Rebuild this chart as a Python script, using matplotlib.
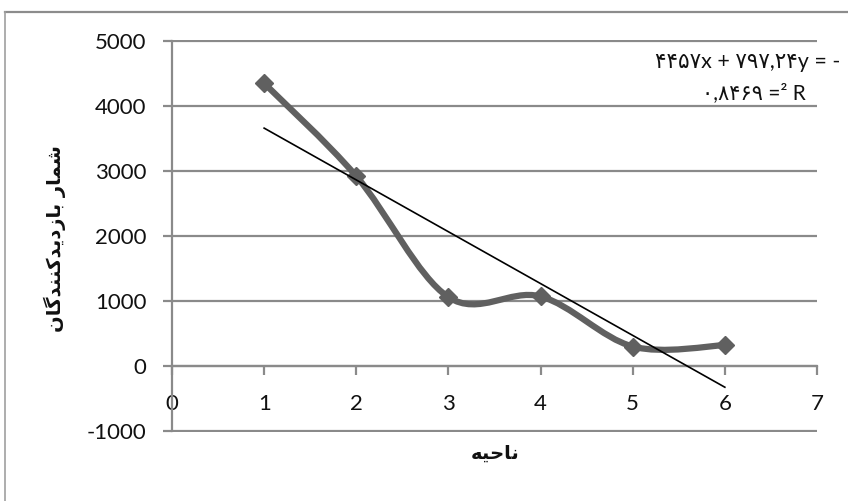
import matplotlib
matplotlib.use("Agg")
import matplotlib.pyplot as plt
from matplotlib.path import Path
from matplotlib.patches import PathPatch
from matplotlib.lines import Line2D
import numpy as np

# ---- data ----
districts = [1, 2, 3, 4, 5, 6]
visitors = [4350, 2920, 1060, 1070, 300, 320]
trend_slope = -797.24
trend_intercept = 4457
x_ticks = [0, 1, 2, 3, 4, 5, 6, 7]
y_ticks = [-1000, 0, 1000, 2000, 3000, 4000, 5000]
eq_line1 = "۴۴۵۷x + ۷۹۷,۲۴y = -"
eq_line2 = "۰,۸۴۶۹ =² R"


def visual(s):
    # matplotlib draws left to right; Arabic-script text given in shaped
    # presentation forms is reversed into visual order
    return s[::-1]

# شمار بازدیدکنندگان (shaped presentation forms, logical order)
ylabel_text = visual("\uFEB7\uFEE4\uFE8E\uFEAD \uFE91\uFE8E\uFEAF\uFEA9\uFBFE\uFEAA\uFB90\uFEE8\uFEE8\uFEAA\uFB94\uFE8E\uFEE5")
# ناحیه
xlabel_text = visual("\uFEE7\uFE8E\uFEA3\uFBFF\uFEEA")

plt.rcParams["font.family"] = ["Lato", "DejaVu Sans"]
plt.rcParams["axes.unicode_minus"] = False

W, H = 848, 501
fig = plt.figure(figsize=(W / 100, H / 100), dpi=100)
fig.patch.set_facecolor("white")

GRID = "#8a8a8a"
SERIES = "#606060"

# axes: x 0..7 -> px 172..817 ; y -1000..5000 -> px 431..41 (with a small margin)
pad_units = 12
px_per_unit_y = 390 / 6000
top_px = 41 - pad_units * px_per_unit_y
bot_px = 431 + pad_units * px_per_unit_y
ax = fig.add_axes([172 / W, 1 - bot_px / H, (817 - 172) / W, (bot_px - top_px) / H])
ax.set_xlim(0, 7)
ax.set_ylim(-1000 - pad_units, 5000 + pad_units)
ax.set_facecolor("none")

for s in ["top", "right"]:
    ax.spines[s].set_visible(False)
ax.spines["left"].set_bounds(-1000, 5000)
ax.spines["left"].set_color(GRID)
ax.spines["left"].set_linewidth(1.6)
ax.spines["bottom"].set_position(("data", 0))
ax.spines["bottom"].set_color(GRID)
ax.spines["bottom"].set_linewidth(1.6)

ax.set_xticks(x_ticks)
ax.set_yticks(y_ticks)
ax.yaxis.grid(True, color=GRID, lw=1.6)
ax.set_axisbelow(True)
ax.tick_params(axis="y", direction="out", length=6.5, width=1.6, color=GRID,
               pad=12, labelsize=16, labelcolor="#111111")
ax.tick_params(axis="x", direction="out", length=6.5, width=1.6, color=GRID,
               pad=14, labelsize=16, labelcolor="#111111")

# ---- smoothed series (Excel-style Bezier smoothing) ----
pts = np.column_stack([districts, visitors]).astype(float)
n = len(pts)
verts = [pts[0]]
codes = [Path.MOVETO]
for i in range(n - 1):
    p0 = pts[i - 1] if i > 0 else pts[i]
    p1 = pts[i]
    p2 = pts[i + 1]
    p3 = pts[i + 2] if i + 2 < n else pts[i + 1]
    c1 = p1 + (p2 - p0) / 6.0
    c2 = p2 - (p3 - p1) / 6.0
    verts += [c1, c2, p2]
    codes += [Path.CURVE4] * 3
patch = PathPatch(Path(verts, codes), facecolor="none", edgecolor=SERIES,
                  lw=4.5, capstyle="round", joinstyle="round", zorder=3)
ax.add_patch(patch)
ax.plot(districts, visitors, ls="none", marker="D", ms=9, color=SERIES,
        mec=SERIES, zorder=4)

# ---- linear trend line ----
tx = np.array([districts[0], districts[-1]], dtype=float)
ax.plot(tx, trend_slope * tx + trend_intercept, color="black", lw=1.2, zorder=5)

# ---- texts ----
fig.text(840 / W, 1 - 62 / H, eq_line1, ha="right", va="center", fontsize=15.5,
         family=["Lato", "DejaVu Sans"], color="#111111")
fig.text(806 / W, 1 - 93 / H, eq_line2, ha="right", va="center", fontsize=15,
         family=["Lato", "DejaVu Sans"], color="#111111")

fig.text(55 / W, 1 - 239 / H, ylabel_text, rotation=90, ha="center", va="center",
         fontsize=14, fontweight="bold", family="DejaVu Sans", color="#111111")
fig.text(495 / W, 1 - 453 / H, xlabel_text, ha="center", va="center",
         fontsize=14, fontweight="bold", family="DejaVu Sans", color="#111111")

# ---- chart area border (cropped) ----
fig.add_artist(Line2D([5 / W, 1.0], [1 - 12 / H, 1 - 12 / H], transform=fig.transFigure,
                      color="#8c8c8c", lw=1.6))
fig.add_artist(Line2D([5 / W, 5 / W], [1 - 12 / H, 0.0], transform=fig.transFigure,
                      color="#a0a0a0", lw=1.2))

fig.savefig("out.png", dpi=100, facecolor="white")
